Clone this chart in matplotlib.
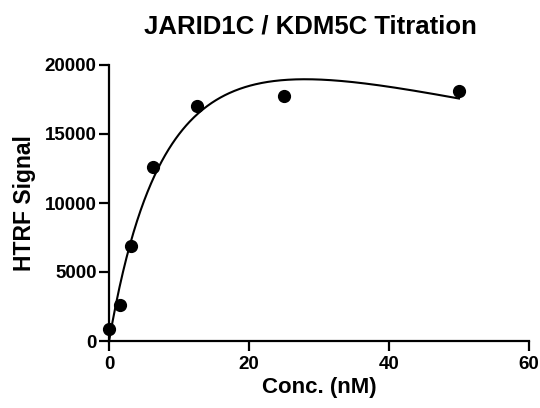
import numpy as np
import matplotlib
matplotlib.use("Agg")
import matplotlib.pyplot as plt

# titration data
conc = [0, 1.5625, 3.125, 6.25, 12.5, 25, 50]
signal = [850, 2600, 6850, 12600, 17050, 17750, 18080]

title = "JARID1C / KDM5C Titration"
x_label = "Conc. (nM)"
y_label = "HTRF Signal"
x_ticks = [0, 20, 40, 60]
y_ticks = [0, 5000, 10000, 15000, 20000]

plt.rcParams['font.family'] = ['Liberation Sans', 'DejaVu Sans']
plt.rcParams['font.weight'] = 'bold'

# substrate inhibition fit: y = b + Vmax*x / (Km + x*(1 + x/Ki))
x = np.array(conc, dtype=float)
y = np.array(signal, dtype=float)
best = None
for km in np.linspace(1, 60, 240):
    for ki in np.logspace(0, 3, 240):
        g = x / (km + x * (1 + x / ki))
        A = np.column_stack([np.ones_like(g), g])
        coef, _, _, _ = np.linalg.lstsq(A, y, rcond=None)
        err = np.sum((A @ coef - y) ** 2)
        if best is None or err < best[0]:
            best = (err, km, ki, coef)
_, km, ki, coef = best
xf = np.linspace(0, 50, 400)
yf = coef[0] + coef[1] * xf / (km + xf * (1 + xf / ki))

fig = plt.figure(figsize=(5.4, 4.08), dpi=100)
ax = fig.add_axes([109/540, 1 - 341/408, 420/540, 276/408])

ax.plot(xf, yf, color='black', lw=1.5, clip_on=False)
ax.plot(conc, signal, 'o', color='black', ms=8.5, clip_on=False)

ax.set_xlim(0, 60)
ax.set_ylim(0, 20000)
ax.set_xticks(x_ticks)
ax.set_yticks(y_ticks)
for s in ['top', 'right']:
    ax.spines[s].set_visible(False)
for s in ['left', 'bottom']:
    ax.spines[s].set_linewidth(1.6)
ax.tick_params(direction='out', width=1.6, length=7, labelsize=13.5)
ax.tick_params(axis='x', pad=4)
ax.tick_params(axis='y', pad=2)
for lab in ax.get_xticklabels() + ax.get_yticklabels():
    lab.set_fontweight('bold')

ax.set_xlabel(x_label, fontsize=16, fontweight='bold', labelpad=3)
ax.set_ylabel(y_label, fontsize=16.5, fontweight='bold', labelpad=6)
fig.text(310/540, 1 - 33/408, title, fontsize=18.5, fontweight='bold',
         ha='center', va='baseline')

fig.savefig('out.png', dpi=100)
